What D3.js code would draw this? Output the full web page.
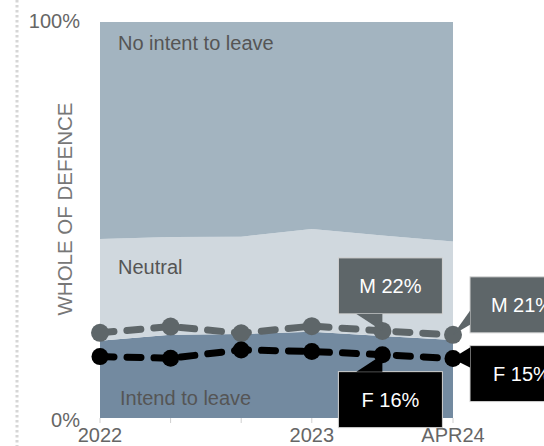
<!DOCTYPE html>
<html>
<head>
<meta charset="utf-8">
<script src="https://cdn.jsdelivr.net/npm/d3@7"></script>
<style>
  html, body { margin: 0; padding: 0; background: #fff; }
  svg { display: block; font-family: Arial, "Liberation Sans", sans-serif; }
</style>
</head>
<body>
<svg id="chart" width="544" height="446"></svg>
<script>
// Survey periods and the axis labels shown under them
const periods = ["2022", "2022 mid", "2022 late", "2023", "2023 mid", "APR24"];
const tickLabels = ["2022", "", "", "2023", "", "APR24"];

// Share of all respondents (%), stacked bottom to top
const intendToLeave = [19.5, 21.0, 21.2, 21.8, 20.7, 19.7];
const neutral       = [25.7, 24.7, 24.6, 25.9, 25.4, 24.9];
const noIntent      = [54.8, 54.3, 54.2, 52.3, 53.9, 55.4];

// Intend to leave, by sex (%)
const male   = [21.5, 23.1, 21.4, 23.2, 22, 21];
const female = [15.5, 15.1, 17.2, 16.8, 16, 15];

const colors = {
  noIntent: "#a3b4c0",
  neutral: "#d0d8de",
  intend: "#738aa0",
  male: "#5e6669",
  female: "#000000",
  text: "#555555",
  axis: "#666666"
};

const svg = d3.select("#chart");
const margin = { left: 100, right: 91, top: 22, bottom: 28 };
const W = 544, H = 446;

const x = d3.scalePoint().domain(d3.range(periods.length))
  .range([margin.left, W - margin.right]);
const y = d3.scaleLinear().domain([0, 100]).range([H - margin.bottom, margin.top]);

// stacked layers
const rows = periods.map((p, i) => ({ i, intend: intendToLeave[i], neutral: neutral[i], noIntent: noIntent[i] }));
const stack = d3.stack().keys(["intend", "neutral", "noIntent"]);
const layers = stack(rows);

const area = d3.area()
  .x(d => x(d.data.i))
  .y0(d => y(d[0]))
  .y1(d => y(d[1]));

// decorative dotted rule on the far left
svg.append("line")
  .attr("x1", 17).attr("x2", 17).attr("y1", 0).attr("y2", H)
  .attr("stroke", "#d6d6d6").attr("stroke-width", 3)
  .attr("stroke-dasharray", "2.5,2.5");

svg.append("g").selectAll("path").data(layers).join("path")
  .attr("d", area)
  .attr("fill", d => colors[d.key]);

// x ticks
svg.append("g").selectAll("line").data(d3.range(periods.length)).join("line")
  .attr("x1", i => x(i)).attr("x2", i => x(i))
  .attr("y1", y(0)).attr("y2", y(0) + 5)
  .attr("stroke", "#cfcfcf").attr("stroke-width", 1);

svg.append("g").selectAll("text").data(tickLabels).join("text")
  .attr("x", (d, i) => x(i))
  .attr("y", H - 4)
  .attr("text-anchor", "middle")
  .attr("font-size", 20)
  .attr("fill", colors.axis)
  .text(d => d);

// y extremes
svg.append("text").attr("x", 80).attr("y", y(100) + 6)
  .attr("text-anchor", "end").attr("font-size", 20).attr("fill", colors.axis).text("100%");
svg.append("text").attr("x", 80).attr("y", y(0) + 9)
  .attr("text-anchor", "end").attr("font-size", 20).attr("fill", colors.axis).text("0%");

// y title
svg.append("text")
  .attr("transform", "translate(72,209) rotate(-90)")
  .attr("text-anchor", "middle")
  .attr("font-size", 20.5)
  .attr("fill", "#777")
  .text("WHOLE OF DEFENCE");

// band labels
const bandLabels = [
  { text: "No intent to leave", x: 118, y: 50 },
  { text: "Neutral", x: 118, y: 274 },
  { text: "Intend to leave", x: 120, y: 405 }
];
svg.append("g").selectAll("text").data(bandLabels).join("text")
  .attr("x", d => d.x).attr("y", d => d.y)
  .attr("font-size", 20).attr("fill", colors.text)
  .text(d => d.text);

// dashed series lines with dots
const line = d3.line().x((d, i) => x(i)).y(d => y(d));
const series = [
  { key: "male", values: male, color: colors.male, r: 9 },
  { key: "female", values: female, color: colors.female, r: 8.5 }
];
series.forEach(s => {
  svg.append("path")
    .attr("d", line(s.values))
    .attr("fill", "none")
    .attr("stroke", s.color)
    .attr("stroke-width", 7)
    .attr("stroke-linecap", "round")
    .attr("stroke-dasharray", "14,13");
});
series.forEach(s => {
  svg.append("g").selectAll("circle").data(s.values).join("circle")
    .attr("cx", (d, i) => x(i)).attr("cy", d => y(d))
    .attr("r", s.r).attr("fill", s.color);
});

// value callouts
const boxW = 104, boxH = 56;
const callouts = [
  { series: male, i: 4, prefix: "M", color: colors.male, place: "above" },
  { series: female, i: 4, prefix: "F", color: colors.female, place: "below" },
  { series: male, i: 5, prefix: "M", color: colors.male, place: "rightUp" },
  { series: female, i: 5, prefix: "F", color: colors.female, place: "right" }
];
const cg = svg.append("g");
callouts.forEach(c => {
  const v = c.series[c.i];
  const px = x(c.i), py = y(v);
  let bx, by, pointer;
  if (c.place === "above") {
    bx = px - 44; by = py - 73;
    pointer = [[px - 26, by + boxH], [px, by + boxH], [px, py]];
  } else if (c.place === "below") {
    bx = px - 44; by = py + 17;
    pointer = [[px - 26, by], [px, by], [px, py]];
  } else if (c.place === "rightUp") {
    bx = px + 17; by = py - 58;
    pointer = [[px, py], [bx, by + 34], [bx, by + 48]];
  } else {
    bx = px + 17; by = py - 13;
    pointer = [[px - 1, py], [bx, by + 2], [bx, by + 22]];
  }
  cg.append("rect")
    .attr("x", bx).attr("y", by).attr("width", boxW).attr("height", boxH)
    .attr("fill", c.color).attr("stroke", "#d4d4d4").attr("stroke-width", 1);
  cg.append("path")
    .attr("d", d3.line()(pointer) + "Z")
    .attr("fill", c.color);
  cg.append("text")
    .attr("x", bx + boxW / 2).attr("y", by + boxH / 2 + 7)
    .attr("text-anchor", "middle")
    .attr("font-size", 20).attr("fill", "#fff")
    .text(`${c.prefix} ${v}%`);
});
</script>
</body>
</html>
